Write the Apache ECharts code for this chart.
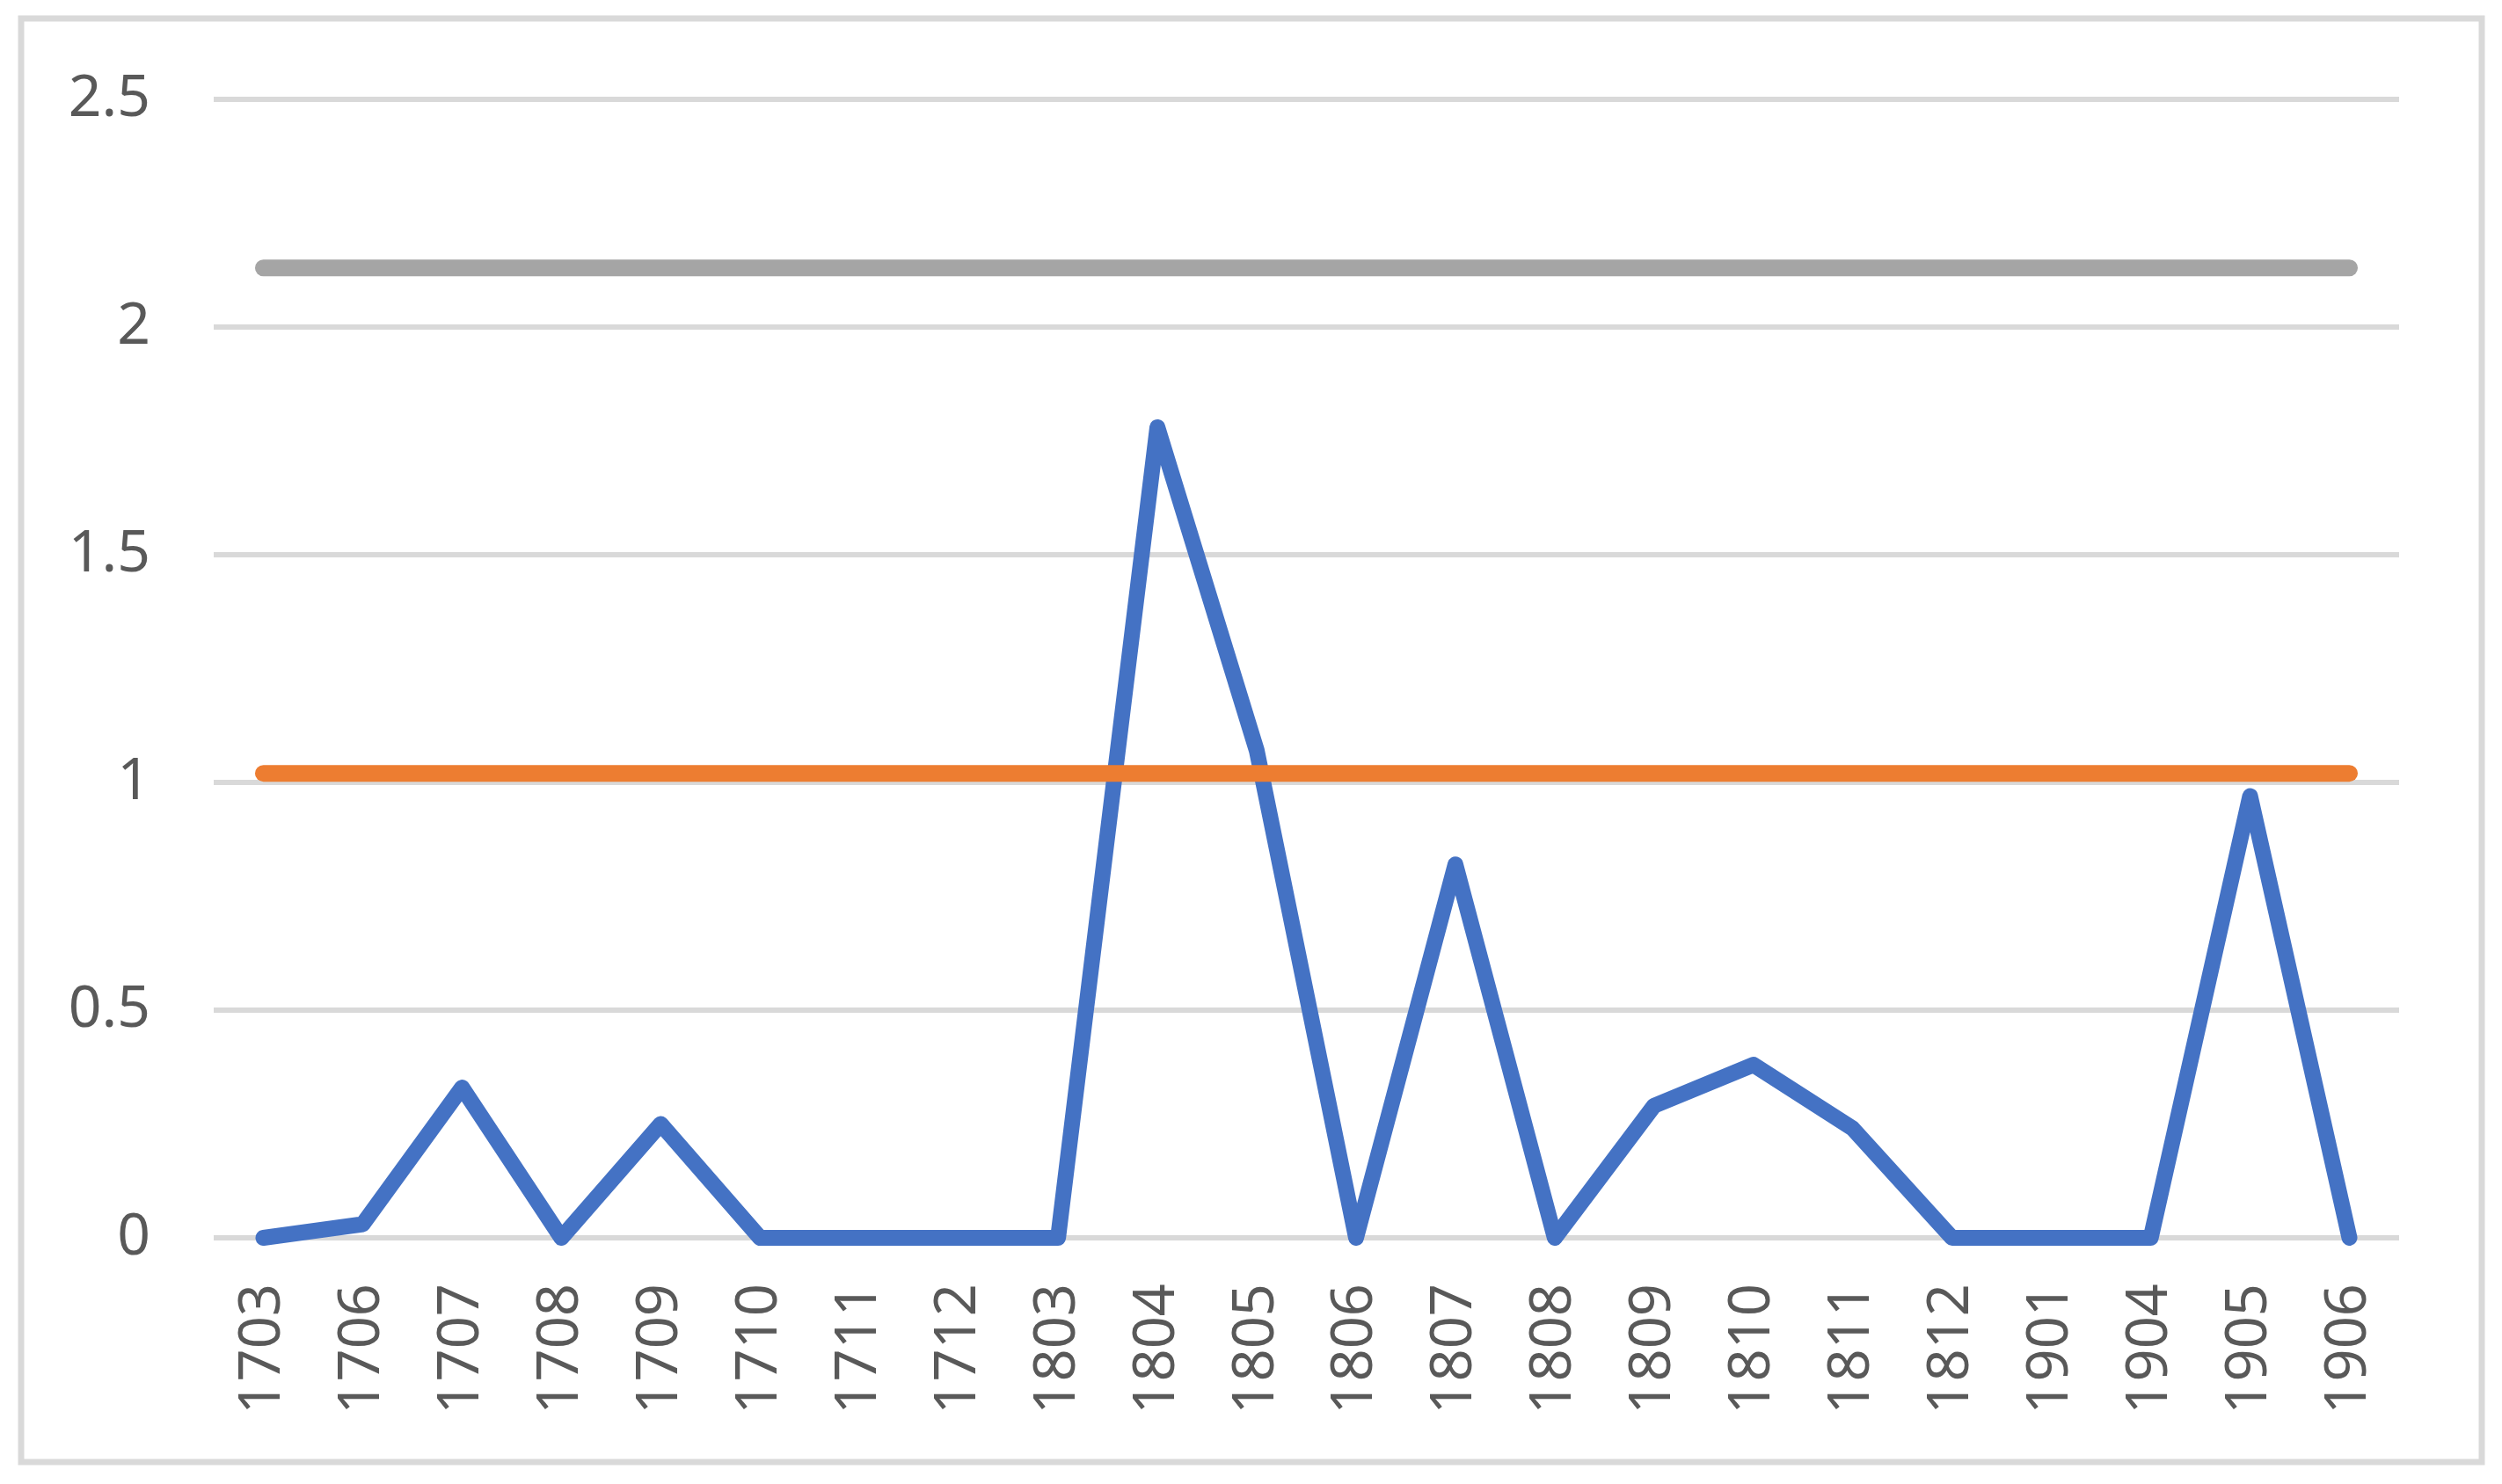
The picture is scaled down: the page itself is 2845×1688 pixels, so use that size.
<!DOCTYPE html>
<html>
<head>
<meta charset="utf-8">
<script src="https://cdn.jsdelivr.net/npm/echarts@6/dist/echarts.min.js"></script>
<style>
  html, body { margin: 0; padding: 0; background: #fff; }
  #chart { width: 2845px; height: 1688px; }
</style>
</head>
<body>
<div id="chart"></div>
<script>
const categories = ['1703', '1706', '1707', '1708', '1709', '1710', '1711', '1712', '1803', '1804', '1805',
  '1806', '1807', '1808', '1809', '1810', '1811', '1812', '1901', '1904', '1905', '1906'];

const blueValues = [0, 0.03, 0.33, 0, 0.25, 0, 0, 0, 0, 1.78, 1.07,
  0, 0.82, 0, 0.29, 0.38, 0.24, 0, 0, 0, 0.97, 0];
const orangeValues = categories.map(() => 1.02);
const grayValues = categories.map(() => 2.13);

const textColor = '#595959';
const fontFamily = '"Noto Sans", "Open Sans", sans-serif';

const makeLine = (data, color, width) => ({
  type: 'line',
  data: data,
  symbol: 'none',
  animation: false,
  lineStyle: { color: color, width: width, cap: 'round', join: 'round' }
});

const option = {
  animation: false,
  backgroundColor: '#ffffff',
  graphic: [
    {
      type: 'rect',
      shape: { x: 24, y: 21, width: 2798, height: 1642 },
      style: { fill: 'none', stroke: '#d9d9d9', lineWidth: 7 },
      z: -1
    }
  ],
  grid: {
    left: 243,
    right: 117,
    top: 113,
    bottom: 280
  },
  xAxis: {
    type: 'category',
    data: categories,
    boundaryGap: true,
    axisLine: { show: false },
    axisTick: { show: false },
    axisLabel: {
      rotate: 90,
      interval: 0,
      margin: 52,
      color: textColor,
      fontSize: 65,
      fontFamily: fontFamily
    }
  },
  yAxis: {
    type: 'value',
    min: 0,
    max: 2.5,
    interval: 0.5,
    axisLine: { show: false },
    axisTick: { show: false },
    axisLabel: {
      margin: 72,
      color: textColor,
      fontSize: 66,
      fontFamily: fontFamily
    },
    splitLine: {
      lineStyle: { color: '#d9d9d9', width: 6 }
    }
  },
  series: [
    makeLine(blueValues, '#4472C4', 18),
    makeLine(orangeValues, '#ED7D31', 19),
    makeLine(grayValues, '#A5A5A5', 19)
  ]
};

const chart = echarts.init(document.getElementById('chart'));
chart.setOption(option);
</script>
</body>
</html>
